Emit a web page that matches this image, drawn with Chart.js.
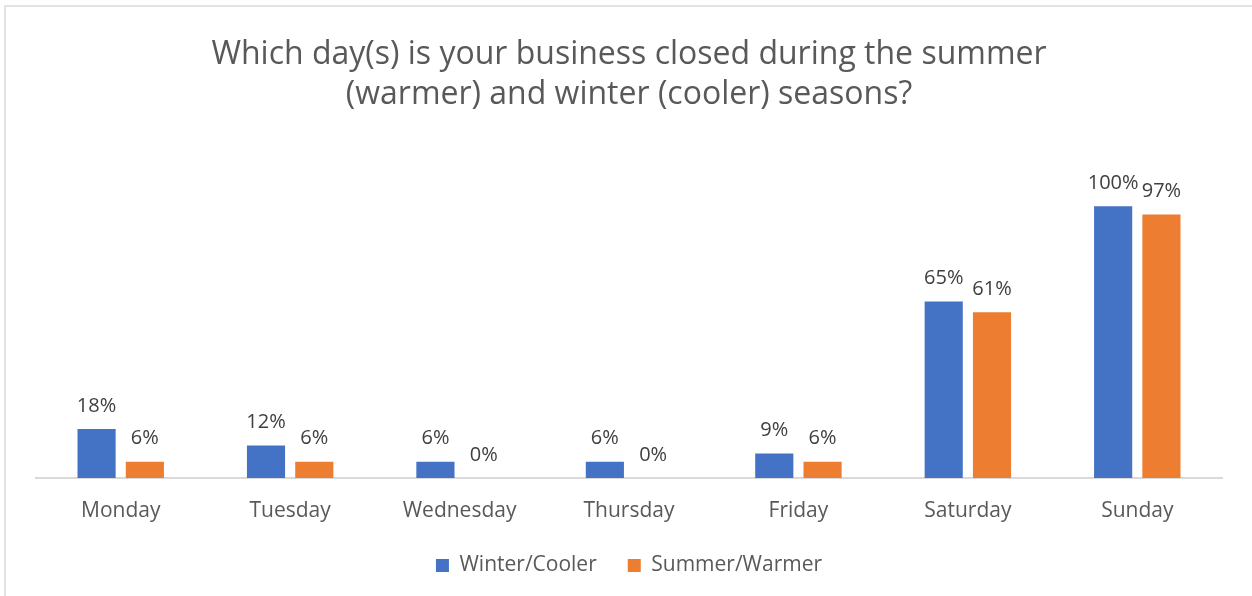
<!DOCTYPE html>
<html>
<head>
<meta charset="utf-8">
<script src="https://cdn.jsdelivr.net/npm/chart.js@4.4.1/dist/chart.umd.min.js"></script>
<style>
  html, body { margin: 0; padding: 0; background: #ffffff; }
  #wrap { width: 1252px; height: 596px; position: relative; }
</style>
</head>
<body>
<div id="wrap"><canvas id="closedChart"></canvas></div>
<script>
// dati
const days = ["Monday", "Tuesday", "Wednesday", "Thursday", "Friday", "Saturday", "Sunday"];
const winterCooler = [18, 12, 6, 6, 9, 65, 100];
const summerWarmer = [6, 6, 0, 0, 6, 61, 97];
const seriesNames = ["Winter/Cooler", "Summer/Warmer"];
const chartTitle = ["Which day(s) is your business closed during the summer", "(warmer) and winter (cooler) seasons?"];

const FONT = "'Open Sans', 'Liberation Sans', sans-serif";

// cornice grigia attorno al grafico
const framePlugin = {
    id: "frame",
    beforeDraw(chart) {
        const ctx = chart.ctx;
        ctx.save();
        ctx.fillStyle = "#ffffff";
        ctx.fillRect(0, 0, chart.width, chart.height);
        ctx.strokeStyle = "#d9d9d9";
        ctx.lineWidth = 1.5;
        ctx.beginPath();
        ctx.moveTo(5, chart.height);
        ctx.lineTo(5, 6);
        ctx.lineTo(chart.width, 6);
        ctx.stroke();
        ctx.restore();
    }
};

// etichette percentuali sopra le barre
const valueLabels = {
    id: "valueLabels",
    afterDatasetsDraw(chart) {
        const ctx = chart.ctx;
        ctx.save();
        ctx.font = "20px " + FONT;
        ctx.fillStyle = "#404040";
        ctx.textAlign = "center";
        ctx.textBaseline = "middle";
        chart.data.datasets.forEach((ds, i) => {
            chart.getDatasetMeta(i).data.forEach((bar, j) => {
                ctx.fillText(ds.data[j] + "%", bar.x, bar.y - 23);
            });
        });
        ctx.restore();
    }
};

const ctx = document.getElementById("closedChart").getContext("2d");

new Chart(ctx, {
    type: "bar",
    data: {
        labels: days,
        datasets: [{
            label: seriesNames[0],
            data: winterCooler,
            backgroundColor: "#4472c4",
            categoryPercentage: 0.57,
            barPercentage: 0.79
        }, {
            label: seriesNames[1],
            data: summerWarmer,
            backgroundColor: "#ed7d31",
            categoryPercentage: 0.57,
            barPercentage: 0.79
        }]
    },
    options: {
        responsive: true,
        maintainAspectRatio: false,
        animation: false,
        layout: {
            padding: { left: 36, right: 30, top: 0, bottom: 10 }
        },
        scales: {
            x: {
                grid: { display: false },
                border: { color: "#d9d9d9", width: 2 },
                ticks: {
                    color: "#595959",
                    font: { family: FONT, size: 21 },
                    padding: 12
                },
                afterFit(scale) {
                    scale.height = 46;
                }
            },
            y: {
                display: false,
                min: 0,
                max: 120
            }
        },
        plugins: {
            title: {
                display: true,
                text: chartTitle,
                color: "#595959",
                font: { family: FONT, size: 32, weight: "normal", lineHeight: 1.25 },
                padding: { top: 35, bottom: 37 }
            },
            legend: {
                position: "bottom",
                labels: {
                    color: "#595959",
                    font: { family: FONT, size: 21 },
                    boxWidth: 13,
                    boxHeight: 13,
                    padding: 31
                }
            },
            tooltip: { enabled: false }
        }
    },
    plugins: [framePlugin, valueLabels]
});
</script>
</body>
</html>
